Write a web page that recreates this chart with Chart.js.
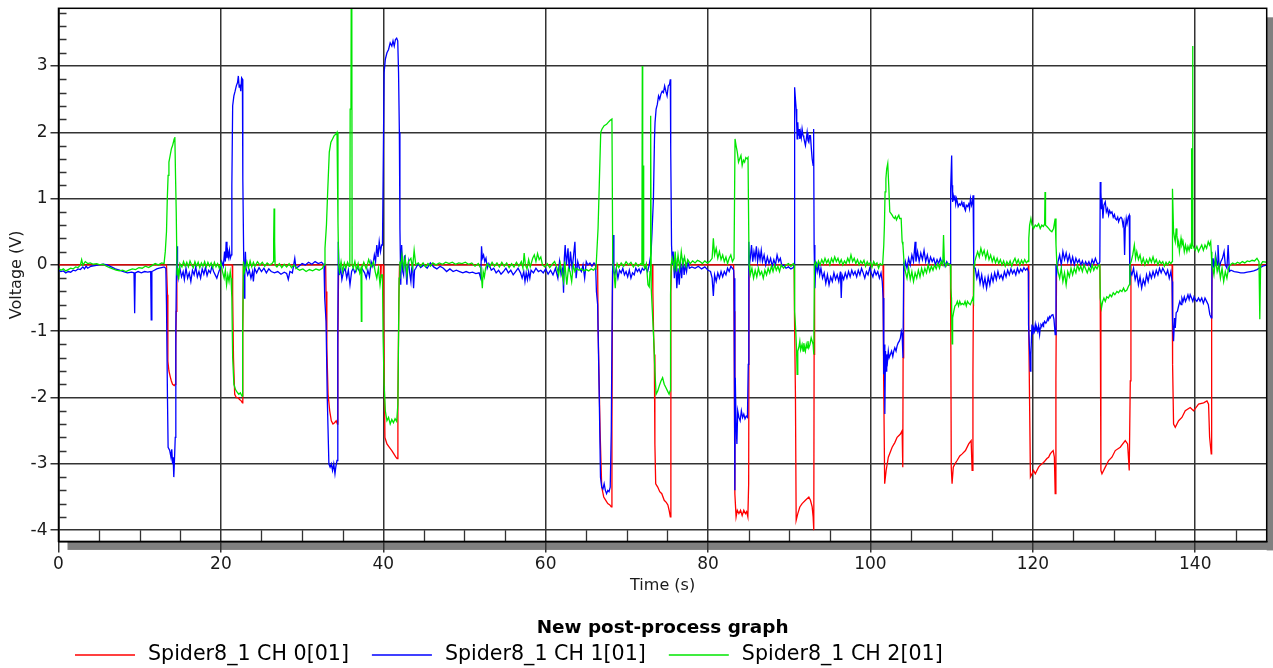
<!DOCTYPE html>
<html>
<head>
<meta charset="utf-8">
<title>New post-process graph</title>
<script src="https://cdn.jsdelivr.net/npm/chart.js@4.4.1/dist/chart.umd.min.js"></script>
<style>
  html, body { margin: 0; padding: 0; background: #fff; }
  canvas { display: block; }
</style>
</head>
<body>
<canvas id="voltChart" width="1273" height="668"></canvas>
<script>
//################### Data ###################
const timeRange = [0, 148.8];
const voltRange = [-4.17, 3.87];
const seriesLabels = ['Spider8_1 CH 0[01]', 'Spider8_1 CH 1[01]', 'Spider8_1 CH 2[01]'];
const seriesColors = ['#ff0000', '#0000ff', '#00e600'];

// [time (s), voltage (V)]
const ch0Points = [
  [0, 0], [13.3, 0], [13.42, -0.45], [13.47, -1.45], [13.6, -1.6], [13.75, -1.68], [13.9, -1.75], [14.05, -1.8], [14.25, -1.82], [14.38, -1.8], [14.44, -1.25], [14.5, -0.7], [14.58, 0],
  [21.4, 0], [21.45, -0.45], [21.55, -1.4], [21.7, -1.95], [21.9, -2.0], [22.1, -2.0], [22.3, -2.03], [22.5, -2.05], [22.65, -2.08], [22.7, -1.0], [22.76, 0],
  [32.9, 0], [32.95, -0.4], [33.05, -1.25], [33.2, -1.95], [33.4, -2.2], [33.6, -2.35], [33.8, -2.4], [34.0, -2.38], [34.2, -2.35], [34.35, -2.4], [34.4, -1.25], [34.5, 0],
  [39.65, 0], [39.7, -0.2], [39.75, 0],
  [40.0, 0], [40.05, -0.8], [40.2, -2.6], [40.45, -2.7], [40.75, -2.75], [41.05, -2.8], [41.3, -2.85], [41.55, -2.9], [41.7, -2.92], [41.8, -2.0], [41.92, -0.5], [42.0, 0],
  [66.4, 0], [66.45, -0.9], [66.7, -2.5], [66.9, -3.35], [67.15, -3.5], [67.4, -3.55], [67.65, -3.6], [67.9, -3.62], [68.08, -3.65], [68.16, -2.5], [68.24, -0.1], [68.3, 0],
  [73.15, 0], [73.2, -0.4], [73.3, -1.1], [73.38, -1.35], [73.45, -2.7], [73.55, -3.3], [73.8, -3.35], [74.05, -3.42], [74.3, -3.45], [74.6, -3.55], [74.85, -3.58], [75.05, -3.62], [75.2, -3.7], [75.35, -3.8], [75.42, -0.4], [75.5, 0],
  [83.15, 0], [83.2, -0.7], [83.3, -3.45], [83.45, -3.8], [83.6, -3.7], [83.8, -3.75], [84.0, -3.7], [84.2, -3.78], [84.4, -3.7], [84.6, -3.75], [84.75, -3.72], [84.9, -3.8], [85.0, -3.3], [85.05, 0],
  [90.6, 0], [90.64, -0.75], [90.76, -1.95], [90.85, -3.85], [91.05, -3.75], [91.3, -3.65], [91.58, -3.6], [91.99, -3.55], [92.41, -3.5], [92.61, -3.55], [92.82, -3.65], [92.94, -3.8], [93.02, -4.0], [93.06, -1.35], [93.12, 0],
  [101.55, 0], [101.62, -1.65], [101.75, -3.3], [101.93, -3.1], [102.2, -2.9], [102.67, -2.75], [103.0, -2.68], [103.28, -2.6], [103.69, -2.55], [103.9, -2.5], [103.98, -3.05], [104.02, -1.4], [104.06, -0.8], [104.12, 0],
  [109.85, 0], [109.9, -1.2], [109.95, -3.05], [110.05, -3.3], [110.2, -3.05], [110.4, -3.0], [110.67, -2.95], [111.0, -2.88], [111.3, -2.85], [111.7, -2.8], [112.1, -2.7], [112.4, -2.65], [112.52, -3.1], [112.62, -1.65], [112.7, 0],
  [119.45, 0], [119.5, -1.0], [119.7, -3.2], [119.9, -3.15], [120.09, -3.1], [120.3, -3.15], [120.5, -3.1], [120.71, -3.05], [120.91, -3.02], [121.12, -3.0], [121.32, -2.98], [121.53, -2.95], [121.73, -2.92], [121.94, -2.9], [122.14, -2.85], [122.34, -2.82], [122.5, -2.8], [122.65, -2.9], [122.75, -3.45], [122.84, -1.75], [122.92, 0],
  [128.25, 0], [128.3, -0.6], [128.38, -3.1], [128.51, -3.15], [128.92, -3.05], [129.33, -2.95], [129.74, -2.9], [130.15, -2.8], [130.76, -2.75], [131.38, -2.65], [131.67, -2.7], [131.87, -3.1], [132.0, -1.75], [132.08, 0],
  [137.15, 0], [137.21, -1.5], [137.33, -2.4], [137.54, -2.45], [137.95, -2.35], [138.36, -2.3], [138.77, -2.2], [139.38, -2.15], [139.79, -2.2], [140.41, -2.1], [141.03, -2.08], [141.44, -2.05], [141.64, -2.1], [141.77, -2.6], [141.97, -2.85], [142.02, -0.8], [142.08, 0],
  [148.8, 0]
];

const ch1Points = [
  [0, -0.08], [0.3, -0.1], [0.6, -0.09], [0.9, -0.12], [1.2, -0.1], [1.5, -0.11], [1.8, -0.08], [2.1, -0.09], [2.4, -0.06], [2.7, -0.07], [3.0, -0.03], [3.2, -0.06], [3.4, -0.02], [3.6, -0.05], [4.0, -0.02], [4.5, -0.01], [5.0, 0.0], [5.5, 0.01], [6.0, 0.0], [6.5, -0.03], [7.0, -0.06], [7.5, -0.08], [8.0, -0.1], [8.5, -0.12], [9.0, -0.11], [9.3, -0.12], [9.38, -0.73], [9.45, -0.12], [9.8, -0.1], [10.2, -0.12], [10.6, -0.1], [11.0, -0.11], [11.35, -0.1], [11.42, -0.83], [11.5, -0.1], [11.8, -0.08], [12.1, -0.06], [12.4, -0.05], [12.7, -0.04], [13.0, -0.03],
  [13.22, -0.05], [13.3, -0.6], [13.42, -2.0], [13.5, -2.75], [13.7, -2.8], [13.85, -2.9], [13.95, -2.78], [14.05, -3.0], [14.12, -2.9], [14.2, -3.2], [14.28, -2.95], [14.38, -2.6], [14.45, -1.0], [14.52, -0.15], [14.6, 0.28], [14.66, -0.1],
  [14.75, -0.2], [14.95, -0.05], [15.15, -0.18], [15.35, -0.1], [15.5, -0.22], [15.7, -0.05], [15.9, -0.2], [16.1, -0.12], [16.3, -0.25], [16.5, -0.08], [16.7, -0.15], [16.9, -0.03], [17.1, -0.18], [17.3, -0.1], [17.5, -0.2], [17.7, -0.06], [17.9, -0.14], [18.1, -0.04], [18.3, -0.16], [18.5, -0.08], [18.7, -0.12], [18.9, -0.02], [19.1, -0.1], [19.3, -0.15], [19.5, -0.2], [19.7, -0.12], [19.9, -0.05], [20.1, 0.05], [20.3, -0.02], [20.45, 0.2], [20.55, 0.05], [20.65, 0.35], [20.75, 0.1], [20.85, 0.2], [20.95, 0.12], [21.05, 0.22], [21.15, 0.1],
  [21.28, 0.15], [21.35, 1.2], [21.45, 2.4], [21.6, 2.55], [21.75, 2.62], [21.9, 2.7], [22.05, 2.75], [22.15, 2.85], [22.25, 2.68], [22.35, 2.72], [22.45, 2.62], [22.55, 2.82], [22.65, 2.8], [22.7, 1.3], [22.8, 0.2], [22.88, -0.5], [22.95, -0.1],
  [23.02, 0.2], [23.1, -0.05], [23.3, -0.15], [23.5, -0.08], [23.7, -0.2], [23.9, -0.1], [24.0, -0.25], [24.15, -0.05], [24.4, -0.12], [24.7, -0.04], [25.0, -0.1], [25.3, -0.05], [25.6, -0.12], [25.9, -0.06], [26.2, -0.1], [26.6, -0.12], [27.0, -0.1], [27.4, -0.14], [27.8, -0.11], [28.1, -0.13], [28.3, -0.22], [28.5, -0.1], [28.8, -0.12], [29.1, 0.1], [29.25, -0.05], [29.6, -0.02], [30.0, 0.02], [30.4, 0.0], [30.8, 0.04], [31.2, 0.01], [31.6, 0.05], [32.0, 0.02], [32.4, 0.04], [32.7, 0.0],
  [32.75, 0.02], [32.82, -0.5], [32.95, -0.85], [33.1, -2.0], [33.3, -3.0], [33.45, -3.05], [33.6, -3.0], [33.75, -3.1], [33.9, -3.0], [34.05, -3.15], [34.15, -3.05], [34.3, -2.95], [34.4, -1.0], [34.46, 0.35], [34.55, -0.1],
  [34.6, -0.15], [34.75, -0.05], [34.9, -0.22], [35.1, -0.1], [35.3, -0.05], [35.5, -0.2], [35.7, -0.08], [35.9, -0.3], [36.1, -0.1], [36.3, -0.05], [36.5, -0.12], [36.8, -0.04], [37.1, -0.1], [37.4, -0.06], [37.7, -0.12], [37.9, -0.2], [38.1, -0.08], [38.3, -0.18], [38.5, 0.05], [38.7, -0.02], [38.9, 0.15], [39.05, 0.05], [39.2, 0.3], [39.35, 0.12], [39.5, 0.35], [39.65, 0.2], [39.8, 0.3],
  [39.9, 0.3], [39.98, 1.3], [40.1, 2.9], [40.25, 3.1], [40.45, 3.2], [40.65, 3.25], [40.85, 3.35], [41.05, 3.3], [41.2, 3.38], [41.35, 3.3], [41.5, 3.4], [41.65, 3.42], [41.78, 3.38], [41.88, 2.9], [41.98, 2.0], [42.05, 0.55], [42.15, -0.3],
  [42.26, 0.3], [42.4, -0.1], [42.5, -0.15], [42.6, 0.12], [42.67, 0.15], [42.8, -0.1], [42.91, -0.3], [43.0, -0.05], [43.12, 0.05], [43.25, -0.12], [43.4, -0.25], [43.5, -0.05], [43.61, 0.0], [43.73, -0.35], [43.85, -0.08], [44.0, -0.05], [44.3, 0.02], [44.6, -0.04], [45.0, 0.0], [45.4, -0.05], [45.8, 0.03], [46.2, -0.03], [46.6, -0.06], [47.0, -0.02], [47.4, -0.05], [47.8, -0.1], [48.2, -0.06], [48.6, -0.1], [49.0, -0.08], [49.4, -0.1], [49.8, -0.12], [50.2, -0.1], [50.6, -0.12], [51.0, -0.11], [51.4, -0.13], [51.8, -0.12], [52.0, -0.2], [52.1, 0.28], [52.2, 0.1], [52.35, 0.15], [52.5, 0.05], [52.65, 0.1], [52.8, -0.05], [53.0, 0.02], [53.3, -0.08], [53.6, -0.05], [53.9, -0.12], [54.2, -0.08], [54.5, -0.14], [54.8, -0.1], [55.1, -0.05], [55.4, -0.12], [55.7, -0.08], [56.0, -0.15], [56.3, -0.1], [56.6, -0.05], [56.9, -0.12], [57.1, -0.2], [57.3, -0.1], [57.45, -0.25], [57.6, -0.12], [57.75, -0.22], [57.9, -0.1], [58.05, -0.2], [58.2, -0.08], [58.5, -0.12], [58.8, -0.05], [59.1, -0.1], [59.4, -0.08],
  [59.7, -0.12], [60.0, -0.06], [60.3, -0.14], [60.6, -0.08], [60.9, -0.15], [61.2, -0.05], [61.5, -0.2], [61.7, 0.05], [61.9, -0.15], [62.1, -0.05], [62.2, -0.42], [62.3, 0.1], [62.4, 0.3], [62.55, 0.0], [62.75, 0.25], [62.9, -0.1], [63.05, 0.2], [63.25, -0.05], [63.4, 0.1], [63.6, 0.35], [63.75, -0.2], [63.95, 0.05], [64.15, -0.05], [64.4, -0.1], [64.6, 0.0], [64.8, -0.2], [65.0, 0.05], [65.2, 0.0], [65.45, 0.03], [65.7, -0.02], [65.95, 0.03], [66.15, 0.0],
  [66.25, -0.4], [66.4, -0.6], [66.6, -2.0], [66.75, -3.2], [66.9, -3.35], [67.05, -3.38], [67.2, -3.3], [67.35, -3.4], [67.5, -3.45], [67.65, -3.4], [67.8, -3.42], [67.95, -3.35], [68.08, -2.5], [68.2, -0.5], [68.3, 0.45], [68.4, -0.1],
  [68.5, -0.15], [68.7, -0.05], [68.9, -0.2], [69.1, -0.08], [69.3, -0.12], [69.5, -0.05], [69.7, -0.15], [69.9, -0.1], [70.1, -0.18], [70.3, -0.08], [70.5, -0.2], [70.7, -0.12], [70.9, -0.15], [71.1, -0.05], [71.3, -0.1], [71.5, -0.06], [71.7, -0.12], [71.9, -0.05], [72.1, -0.08], [72.3, -0.04], [72.55, -0.1], [72.75, 0.0],
  [72.98, 0.18], [73.1, 0.5], [73.27, 1.0], [73.4, 1.9], [73.47, 2.15], [73.6, 2.35], [73.75, 2.42], [73.9, 2.55], [74.05, 2.5], [74.2, 2.58], [74.35, 2.62], [74.5, 2.6], [74.65, 2.7], [74.8, 2.62], [74.95, 2.55], [75.1, 2.7], [75.25, 2.72], [75.35, 2.8], [75.4, 1.75], [75.5, 0.3], [75.6, 0.0],
  [75.7, 0.2], [75.85, -0.2], [76.0, 0.1], [76.15, -0.35], [76.3, -0.05], [76.45, -0.3], [76.6, 0.05], [76.75, -0.2], [76.9, 0.1], [77.05, -0.15], [77.2, 0.0], [77.35, -0.1], [77.5, 0.05], [77.7, -0.05], [78.0, -0.03], [78.4, -0.05], [78.8, -0.02], [79.2, -0.06], [79.6, -0.03], [80.0, -0.08], [80.3, -0.1], [80.5, -0.2], [80.65, -0.47], [80.8, -0.15], [81.0, -0.25], [81.2, -0.12], [81.4, -0.2], [81.6, -0.1], [81.8, -0.18], [82.0, -0.1], [82.2, -0.15], [82.4, -0.05], [82.6, -0.1], [82.8, -0.02], [83.0, -0.05], [83.15, -0.08],
  [83.2, -0.2], [83.3, -3.4], [83.35, -1.7], [83.45, -2.4], [83.55, -2.7], [83.65, -2.2], [83.8, -2.3], [83.95, -2.35], [84.1, -2.2], [84.25, -2.3], [84.4, -2.25], [84.55, -2.32], [84.7, -2.28], [84.85, -2.3], [84.95, -1.5], [85.02, 0.35], [85.1, 0.0],
  [85.2, 0.1], [85.35, 0.3], [85.5, 0.05], [85.65, 0.2], [85.8, 0.1], [85.95, 0.28], [86.1, 0.05], [86.25, 0.2], [86.4, 0.08], [86.55, 0.22], [86.7, 0.05], [86.9, 0.15], [87.1, 0.0], [87.3, 0.12], [87.5, 0.02], [87.7, 0.1], [87.9, -0.02], [88.1, 0.08], [88.3, 0.0], [88.5, 0.15], [88.7, 0.05], [88.9, 0.1], [89.1, -0.02], [89.3, 0.0], [89.6, -0.05], [89.9, -0.03], [90.2, -0.06], [90.5, -0.04], [90.62, 0.0],
  [90.64, 0.1], [90.68, 2.68], [90.76, 2.5], [90.85, 2.35], [90.92, 2.1], [90.97, 1.9], [91.05, 2.15], [91.12, 1.95], [91.2, 2.05], [91.3, 1.9], [91.38, 2.0], [91.48, 1.92], [91.58, 2.05], [91.7, 1.95], [91.79, 1.92], [91.9, 1.85], [91.99, 1.8], [92.1, 1.9], [92.2, 2.0], [92.3, 1.88], [92.41, 1.85], [92.5, 1.95], [92.61, 1.95], [92.72, 1.75], [92.82, 1.6], [92.94, 1.5], [93.0, 2.05], [93.06, 0.3], [93.15, -0.35], [93.25, -0.05],
  [93.3, 0.05], [93.45, -0.1], [93.6, 0.0], [93.75, -0.15], [93.9, -0.05], [94.1, -0.2], [94.3, -0.12], [94.5, -0.28], [94.7, -0.15], [94.9, -0.3], [95.1, -0.18], [95.3, -0.25], [95.5, -0.12], [95.7, -0.22], [95.9, -0.15], [96.1, -0.25], [96.3, -0.1], [96.4, -0.5], [96.5, -0.15], [96.7, -0.22], [96.9, -0.12], [97.1, -0.2], [97.3, -0.1], [97.5, -0.18], [97.7, -0.08], [97.9, -0.15], [98.1, -0.1], [98.3, -0.18], [98.5, -0.08], [98.7, -0.15], [98.9, -0.05], [99.1, -0.12], [99.3, -0.2], [99.5, -0.1], [99.7, -0.15], [99.9, -0.05], [100.1, -0.12], [100.3, -0.18], [100.5, -0.08], [100.7, -0.15], [100.9, -0.1], [101.1, -0.2], [101.3, -0.12], [101.45, -0.25],
  [101.56, -0.5], [101.64, -1.65], [101.72, -1.2], [101.77, -2.25], [101.85, -1.3], [101.93, -1.6], [102.0, -1.35], [102.1, -1.45], [102.2, -1.3], [102.3, -1.4], [102.45, -1.35], [102.6, -1.3], [102.75, -1.38], [102.87, -1.3], [103.0, -1.25], [103.15, -1.3], [103.28, -1.22], [103.4, -1.18], [103.55, -1.15], [103.69, -1.1], [103.8, -1.0], [103.9, -1.05], [104.0, -1.4], [104.1, 0.0], [104.2, -0.05],
  [104.3, 0.05], [104.5, -0.05], [104.7, 0.1], [104.9, 0.0], [105.1, 0.15], [105.3, 0.05], [105.5, 0.35], [105.6, 0.05], [105.8, 0.2], [106.0, 0.05], [106.2, 0.18], [106.4, 0.08], [106.6, 0.22], [106.8, 0.05], [107.0, 0.15], [107.2, 0.02], [107.4, 0.12], [107.6, 0.05], [107.8, 0.1], [108.0, 0.0], [108.2, 0.08], [108.4, 0.02], [108.6, 0.1], [108.8, 0.03], [109.0, 0.07], [109.2, -0.02], [109.4, 0.05], [109.6, 0.0], [109.8, 0.02],
  [109.85, 0.05], [109.9, 1.15], [110.0, 1.65], [110.05, 1.2], [110.12, 0.95], [110.2, 1.05], [110.3, 0.98], [110.4, 1.05], [110.5, 0.92], [110.6, 1.0], [110.7, 0.95], [110.8, 0.88], [110.95, 0.92], [111.1, 0.9], [111.25, 0.95], [111.4, 0.88], [111.5, 0.95], [111.6, 0.85], [111.7, 0.82], [111.8, 0.9], [111.95, 0.88], [112.1, 0.92], [112.2, 0.85], [112.32, 1.0], [112.45, 0.9], [112.55, 0.95], [112.64, 1.05], [112.72, 0.0], [112.8, -0.05],
  [112.9, -0.05], [113.1, -0.2], [113.3, -0.1], [113.5, -0.28], [113.7, -0.15], [113.9, -0.32], [114.1, -0.2], [114.3, -0.35], [114.5, -0.18], [114.7, -0.3], [114.9, -0.15], [115.1, -0.25], [115.3, -0.12], [115.5, -0.22], [115.7, -0.1], [115.9, -0.2], [116.1, -0.15], [116.3, -0.22], [116.5, -0.1], [116.7, -0.18], [116.9, -0.08], [117.1, -0.15], [117.3, -0.06], [117.5, -0.13], [117.7, -0.08], [117.9, -0.15], [118.1, -0.05], [118.3, -0.12], [118.5, -0.06], [118.7, -0.1], [118.9, -0.04], [119.1, -0.08], [119.3, -0.05], [119.45, -0.1],
  [119.47, -0.9], [119.6, -1.3], [119.68, -1.6], [119.76, -1.35], [119.89, -0.9], [120.0, -1.05], [120.09, -0.95], [120.2, -1.0], [120.3, -0.9], [120.4, -0.98], [120.5, -0.95], [120.6, -1.0], [120.71, -0.92], [120.83, -1.05], [120.91, -0.95], [121.0, -0.9], [121.12, -0.92], [121.25, -0.88], [121.32, -0.9], [121.45, -0.85], [121.6, -0.88], [121.73, -0.85], [121.85, -0.8], [121.94, -0.83], [122.05, -0.78], [122.14, -0.8], [122.3, -0.76], [122.47, -0.75], [122.6, -0.82], [122.75, -1.05], [122.85, 0.0], [122.95, -0.1],
  [123.1, 0.05], [123.3, 0.15], [123.5, 0.0], [123.7, 0.2], [123.9, 0.08], [124.1, 0.18], [124.3, 0.05], [124.5, 0.15], [124.7, 0.02], [124.9, 0.12], [125.1, 0.0], [125.3, 0.1], [125.5, 0.03], [125.7, 0.08], [125.9, 0.0], [126.1, 0.06], [126.3, -0.02], [126.5, 0.05], [126.7, 0.0], [126.9, 0.05], [127.1, -0.02], [127.3, 0.08], [127.5, 0.02], [127.7, 0.1], [127.9, 0.03], [128.1, 0.0],
  [128.25, 0.05], [128.3, 1.25], [128.38, 1.1], [128.45, 0.85], [128.51, 1.0], [128.63, 0.7], [128.75, 0.9], [128.92, 0.95], [129.05, 0.8], [129.2, 0.85], [129.33, 0.75], [129.45, 0.82], [129.6, 0.78], [129.74, 0.8], [129.9, 0.72], [130.05, 0.76], [130.15, 0.7], [130.3, 0.68], [130.45, 0.72], [130.56, 0.65], [130.7, 0.7], [130.85, 0.72], [130.97, 0.7], [131.1, 0.6], [131.2, 0.65], [131.3, 0.15], [131.38, 0.55], [131.5, 0.7], [131.6, 0.62], [131.75, 0.72], [131.87, 0.75], [131.95, -0.3], [132.05, -0.1],
  [132.2, -0.15], [132.4, -0.05], [132.6, -0.22], [132.8, -0.12], [133.0, -0.3], [133.2, -0.18], [133.4, -0.35], [133.6, -0.22], [133.8, -0.3], [134.0, -0.15], [134.2, -0.25], [134.4, -0.12], [134.6, -0.2], [134.8, -0.1], [135.0, -0.18], [135.2, -0.08], [135.4, -0.15], [135.6, -0.05], [135.8, -0.12], [136.0, -0.05], [136.2, -0.1], [136.4, -0.15], [136.6, -0.08], [136.8, -0.2], [137.0, -0.1], [137.15, -0.25],
  [137.18, -0.3], [137.25, -0.85], [137.33, -1.15], [137.45, -0.8], [137.54, -0.95], [137.65, -0.72], [137.8, -0.7], [137.95, -0.62], [138.1, -0.55], [138.25, -0.6], [138.36, -0.5], [138.5, -0.55], [138.65, -0.48], [138.8, -0.55], [138.97, -0.5], [139.1, -0.45], [139.25, -0.52], [139.38, -0.45], [139.55, -0.5], [139.7, -0.55], [139.85, -0.48], [140.0, -0.52], [140.2, -0.55], [140.4, -0.5], [140.6, -0.55], [140.8, -0.5], [141.0, -0.58], [141.2, -0.5], [141.4, -0.55], [141.6, -0.6], [141.8, -0.75], [141.97, -0.8], [142.05, 0.1], [142.15, -0.05],
  [142.2, 0.1], [142.35, -0.05], [142.5, 0.15], [142.7, 0.0], [142.8, 0.3], [142.95, -0.05], [143.15, 0.05], [143.35, 0.1], [143.55, 0.2], [143.7, 0.0], [143.9, -0.05], [144.05, 0.3], [144.2, -0.1], [144.4, -0.08], [144.8, -0.1], [145.2, -0.11], [145.6, -0.12], [146.0, -0.12], [146.4, -0.11], [146.8, -0.1], [147.2, -0.09], [147.6, -0.07], [148.0, -0.04], [148.3, -0.02], [148.8, 0.0]
];

const ch2Points = [
  [0, -0.05], [0.3, -0.08], [0.6, -0.06], [0.9, -0.09], [1.2, -0.07], [1.5, -0.05], [1.8, -0.06], [2.1, -0.03], [2.4, -0.04], [2.7, 0.0], [2.85, 0.08], [3.0, 0.0], [3.3, 0.05], [3.6, 0.02], [3.9, 0.03], [4.3, 0.01], [4.7, 0.02], [5.1, 0.0], [5.5, 0.01], [5.9, -0.02], [6.3, -0.04], [6.7, -0.06], [7.1, -0.08], [7.5, -0.09], [7.9, -0.08], [8.3, -0.1], [8.7, -0.08], [9.1, -0.06], [9.5, -0.07], [9.9, -0.04], [10.3, -0.05], [10.7, -0.02], [11.1, -0.04], [11.5, -0.01], [11.9, 0.02], [12.3, 0.0], [12.7, 0.03], [13.0, 0.02],
  [13.05, 0.02], [13.15, 0.2], [13.3, 0.5], [13.4, 1.0], [13.5, 1.35], [13.6, 1.55], [13.75, 1.65], [13.9, 1.75], [14.05, 1.8], [14.15, 1.85], [14.25, 1.9], [14.33, 1.93], [14.42, 1.3], [14.5, 0.8], [14.6, -0.15],
  [14.7, -0.05], [14.8, -0.22], [14.95, 0.02], [15.2, -0.03], [15.4, 0.05], [15.6, -0.02], [15.8, 0.04], [16.0, -0.03], [16.2, 0.06], [16.4, 0.0], [16.6, -0.04], [16.8, 0.05], [17.0, -0.02], [17.2, 0.04], [17.4, -0.04], [17.6, 0.03], [17.8, -0.02], [18.0, 0.05], [18.2, -0.03], [18.4, 0.04], [18.6, -0.02], [18.8, 0.03], [19.0, -0.04], [19.2, 0.04], [19.4, -0.03], [19.6, 0.02], [19.8, -0.05], [20.0, 0.03], [20.2, -0.1], [20.4, -0.2], [20.55, -0.08], [20.7, -0.3], [20.85, -0.15], [21.0, -0.25], [21.15, -0.1], [21.25, -0.2],
  [21.35, -0.5], [21.45, -1.4], [21.6, -1.8], [21.8, -1.88], [22.0, -1.92], [22.2, -1.95], [22.4, -1.93], [22.6, -1.98], [22.68, -1.0], [22.78, 0.05], [22.9, -0.1],
  [23.2, 0.05], [23.4, -0.05], [23.6, 0.06], [23.8, -0.03], [24.0, 0.04], [24.2, -0.02], [24.5, 0.05], [24.8, 0.0], [25.1, 0.04], [25.4, -0.02], [25.7, 0.03], [26.0, 0.0], [26.3, 0.02], [26.45, 0.05], [26.5, 0.4], [26.55, 0.85], [26.62, 0.35], [26.68, 0.0], [26.9, -0.03], [27.2, 0.02], [27.5, -0.04], [27.8, 0.01], [28.1, -0.03], [28.4, 0.02], [28.7, -0.04], [29.0, 0.0], [29.3, -0.05], [29.7, -0.08], [30.1, -0.06], [30.5, -0.1], [30.9, -0.07], [31.3, -0.09], [31.7, -0.06], [32.1, -0.08], [32.5, -0.05], [32.7, 0.0],
  [32.82, 0.25], [33.0, 0.6], [33.15, 1.1], [33.35, 1.7], [33.55, 1.85], [33.75, 1.9], [33.95, 1.95], [34.15, 1.97], [34.3, 2.0], [34.42, 0.65], [34.5, 0.0],
  [34.6, -0.1], [34.8, 0.05], [35.0, -0.1], [35.2, 0.03], [35.4, -0.05], [35.6, 0.04], [35.8, -0.02], [35.88, 0.02], [35.92, 2.35], [36.02, 2.4], [36.06, 4.5], [36.12, 4.4], [36.16, 0.0],
  [36.3, -0.05], [36.5, 0.05], [36.7, -0.08], [36.9, 0.02], [37.1, -0.12], [37.25, -0.05], [37.3, -0.85], [37.36, -0.05], [37.6, 0.04], [37.9, -0.06], [38.2, 0.08], [38.5, -0.03], [38.8, 0.05], [39.0, -0.1], [39.2, -0.2], [39.4, -0.05], [39.6, -0.3], [39.75, -0.15],
  [39.9, -0.15], [39.98, -1.1], [40.1, -1.8], [40.25, -2.2], [40.45, -2.35], [40.65, -2.3], [40.85, -2.4], [41.05, -2.33], [41.25, -2.38], [41.45, -2.32], [41.65, -2.36], [41.8, -2.1], [41.95, -0.2], [42.05, 0.05],
  [42.1, -0.1], [42.3, 0.15], [42.5, -0.05], [42.7, 0.1], [42.9, -0.15], [43.1, 0.05], [43.4, 0.1], [43.6, -0.05], [43.8, 0.22], [44.0, 0.0], [44.3, 0.03], [44.6, -0.02], [44.9, 0.03], [45.2, -0.03], [45.5, 0.02], [45.8, -0.02], [46.1, 0.03], [46.5, 0.0], [46.9, 0.03], [47.3, 0.01], [47.7, 0.04], [48.1, 0.02], [48.5, 0.04], [48.9, 0.01], [49.3, 0.03], [49.7, 0.02], [50.1, 0.04], [50.5, 0.01], [50.9, 0.03], [51.3, -0.02], [51.7, 0.02], [52.0, -0.05], [52.2, -0.35], [52.3, -0.1], [52.45, -0.18], [52.6, -0.05], [52.8, 0.02], [53.1, -0.03], [53.4, 0.04], [53.7, -0.02], [54.0, 0.03], [54.3, -0.03], [54.6, 0.04], [54.9, -0.02], [55.2, 0.03], [55.5, -0.04], [55.8, 0.02], [56.1, -0.03], [56.4, 0.04], [56.7, -0.02], [57.0, 0.05], [57.2, -0.05], [57.35, 0.18], [57.5, 0.0], [57.7, -0.06], [57.9, 0.08], [58.1, -0.03], [58.4, 0.1], [58.6, 0.15], [58.8, 0.05], [59.0, 0.17], [59.2, 0.08], [59.4, 0.12], [59.6, 0.0], [59.9, -0.03], [60.2, 0.02], [60.5, -0.04], [60.8, 0.01], [61.1, 0.05], [61.4, -0.05], [61.6, -0.15], [61.8, 0.02], [62.0, -0.12], [62.2, -0.25], [62.35, 0.05], [62.6, -0.3], [62.8, -0.05], [63.0, -0.1], [63.2, -0.25], [63.4, 0.0], [63.6, -0.1], [63.8, -0.05], [64.1, -0.08], [64.4, -0.06], [64.7, -0.09], [65.0, -0.07], [65.3, -0.09], [65.6, -0.06], [65.9, -0.08], [66.15, -0.04],
  [66.2, -0.05], [66.45, 0.55], [66.6, 1.2], [66.78, 2.0], [66.94, 2.05], [67.2, 2.1], [67.5, 2.12], [67.7, 2.15], [67.95, 2.18], [68.16, 2.2], [68.26, 0.05], [68.4, -0.1], [68.57, -0.35], [68.7, -0.05],
  [68.8, 0.02], [69.0, -0.04], [69.3, 0.03], [69.6, -0.02], [69.9, 0.05], [70.2, 0.0], [70.5, 0.04], [70.8, -0.03], [71.1, 0.03], [71.4, -0.02], [71.7, 0.02], [71.85, 0.0], [71.9, 3.0], [71.95, 0.0], [72.02, 1.5], [72.07, 0.0], [72.2, -0.05], [72.4, 0.02], [72.6, -0.3], [72.75, -0.33], [72.85, -0.1], [72.9, 2.25], [72.96, 2.2], [73.0, -0.35],
  [73.3, -1.1], [73.45, -1.6], [73.6, -1.95], [73.8, -1.9], [74.0, -1.82], [74.2, -1.75], [74.4, -1.7], [74.6, -1.8], [74.8, -1.85], [75.0, -1.9], [75.2, -1.95], [75.32, -1.9], [75.38, -0.45], [75.45, 0.0],
  [75.6, 0.1], [75.8, -0.05], [75.95, 0.2], [76.1, -0.1], [76.3, 0.15], [76.5, -0.05], [76.7, 0.2], [76.9, 0.0], [77.1, 0.12], [77.3, -0.02], [77.5, 0.08], [77.8, 0.02], [78.1, 0.06], [78.4, 0.03], [78.7, 0.07], [79.0, 0.05], [79.3, 0.02], [79.6, 0.06], [79.9, 0.03], [80.2, 0.05], [80.5, 0.1], [80.65, 0.4], [80.8, 0.15], [81.0, 0.25], [81.2, 0.1], [81.4, 0.2], [81.6, 0.08], [81.8, 0.15], [82.0, 0.05], [82.2, 0.12], [82.4, 0.02], [82.6, 0.1], [82.8, 0.15], [83.0, 0.05], [83.2, 0.1],
  [83.25, 0.1], [83.32, 1.9], [83.45, 1.8], [83.6, 1.7], [83.75, 1.55], [83.9, 1.6], [84.05, 1.65], [84.2, 1.5], [84.35, 1.58], [84.5, 1.55], [84.65, 1.62], [84.8, 1.6], [84.92, 1.62], [85.05, 0.0], [85.15, -0.1],
  [85.2, -0.15], [85.4, -0.05], [85.6, -0.2], [85.8, -0.08], [86.0, -0.18], [86.2, -0.05], [86.4, -0.15], [86.6, -0.1], [86.8, -0.2], [87.0, -0.08], [87.2, -0.15], [87.4, -0.05], [87.6, -0.12], [87.8, -0.02], [88.0, -0.1], [88.2, 0.0], [88.4, -0.08], [88.6, -0.02], [88.8, -0.1], [89.0, 0.0], [89.3, -0.05], [89.6, 0.0], [89.9, 0.02], [90.2, -0.02], [90.5, 0.02],
  [90.62, 0.0], [90.66, -0.7], [90.8, -1.0], [90.89, -1.25], [90.97, -1.65], [91.05, -1.3], [91.17, -1.25], [91.3, -1.15], [91.4, -1.28], [91.58, -1.2], [91.7, -1.3], [91.79, -1.18], [91.9, -1.25], [91.99, -1.3], [92.1, -1.2], [92.2, -1.25], [92.3, -1.15], [92.41, -1.25], [92.55, -1.2], [92.7, -1.1], [92.82, -1.15], [92.94, -1.2], [93.02, -1.35], [93.1, 0.0],
  [93.2, 0.05], [93.4, -0.03], [93.6, 0.06], [93.8, 0.0], [94.0, 0.08], [94.2, 0.02], [94.4, 0.1], [94.6, 0.03], [94.8, 0.08], [95.0, 0.0], [95.2, 0.1], [95.4, 0.04], [95.6, 0.12], [95.8, 0.05], [96.0, 0.1], [96.2, 0.02], [96.4, 0.08], [96.6, 0.0], [96.8, 0.06], [97.0, 0.02], [97.2, 0.1], [97.4, 0.04], [97.6, 0.15], [97.8, 0.05], [98.0, 0.1], [98.2, 0.02], [98.4, 0.08], [98.6, 0.0], [98.8, 0.06], [99.0, 0.02], [99.2, 0.07], [99.4, -0.02], [99.6, 0.05], [99.8, 0.0], [100.0, 0.04], [100.2, -0.03], [100.4, 0.05], [100.6, 0.0], [100.8, 0.03], [101.0, -0.05], [101.2, 0.02], [101.4, 0.0],
  [101.5, 0.0], [101.64, 0.3], [101.72, 0.6], [101.8, 1.1], [101.9, 1.3], [102.0, 1.45], [102.13, 1.53], [102.25, 1.2], [102.38, 0.8], [102.5, 0.78], [102.67, 0.75], [102.8, 0.72], [102.95, 0.7], [103.08, 0.73], [103.2, 0.68], [103.35, 0.72], [103.49, 0.75], [103.6, 0.7], [103.78, 0.7], [103.9, 0.35], [104.0, 0.3], [104.15, 0.0],
  [104.3, -0.1], [104.5, -0.2], [104.7, -0.05], [104.9, -0.22], [105.1, -0.1], [105.3, -0.25], [105.5, -0.12], [105.7, -0.2], [105.9, -0.08], [106.1, -0.18], [106.3, -0.05], [106.5, -0.15], [106.7, -0.05], [106.9, -0.12], [107.1, 0.0], [107.3, -0.1], [107.5, -0.02], [107.7, -0.08], [107.9, 0.0], [108.1, -0.06], [108.3, 0.02], [108.5, -0.05], [108.7, 0.05], [108.9, 0.0], [109.0, 0.45], [109.1, 0.05], [109.3, -0.02], [109.5, 0.03], [109.7, 0.0],
  [109.85, 0.0], [109.9, -0.35], [109.98, -0.5], [110.06, -1.19], [110.12, -0.8], [110.26, -0.7], [110.4, -0.62], [110.55, -0.6], [110.7, -0.55], [110.85, -0.62], [111.0, -0.55], [111.15, -0.6], [111.3, -0.58], [111.5, -0.6], [111.65, -0.55], [111.8, -0.62], [111.95, -0.55], [112.1, -0.58], [112.3, -0.6], [112.45, -0.55], [112.6, -0.5], [112.7, -0.55], [112.76, 0.0],
  [112.85, 0.05], [113.0, 0.12], [113.2, 0.2], [113.4, 0.12], [113.6, 0.25], [113.8, 0.15], [114.0, 0.22], [114.2, 0.1], [114.4, 0.2], [114.6, 0.08], [114.8, 0.15], [115.0, 0.05], [115.2, 0.12], [115.4, 0.03], [115.6, 0.1], [115.8, 0.02], [116.0, 0.08], [116.2, 0.0], [116.4, 0.06], [116.6, -0.02], [116.8, 0.05], [117.0, 0.0], [117.2, 0.06], [117.4, -0.02], [117.6, 0.05], [117.8, 0.1], [118.0, 0.02], [118.2, 0.08], [118.4, 0.0], [118.6, 0.07], [118.8, 0.02], [119.0, 0.08], [119.2, 0.03], [119.4, 0.06],
  [119.45, 0.05], [119.5, 0.4], [119.6, 0.6], [119.76, 0.7], [119.9, 0.6], [120.09, 0.55], [120.3, 0.6], [120.5, 0.58], [120.71, 0.62], [120.91, 0.55], [121.1, 0.6], [121.3, 0.58], [121.45, 0.62], [121.5, 1.1], [121.56, 0.6], [121.73, 0.58], [121.94, 0.55], [122.14, 0.52], [122.34, 0.5], [122.55, 0.55], [122.75, 0.7], [122.85, 0.3], [122.96, 0.0],
  [123.1, -0.1], [123.3, -0.2], [123.5, -0.05], [123.7, -0.25], [123.9, -0.12], [124.1, -0.3], [124.3, -0.1], [124.5, -0.18], [124.7, -0.05], [124.9, -0.15], [125.1, -0.05], [125.3, -0.12], [125.5, 0.0], [125.7, -0.08], [125.9, -0.02], [126.1, -0.1], [126.3, 0.0], [126.5, -0.06], [126.7, -0.12], [126.9, -0.04], [127.1, -0.1], [127.3, 0.0], [127.5, -0.08], [127.7, -0.02], [127.9, -0.06], [128.1, 0.0],
  [128.25, 0.0], [128.3, -0.5], [128.45, -0.65], [128.6, -0.55], [128.75, -0.5], [128.92, -0.55], [129.1, -0.48], [129.3, -0.5], [129.5, -0.45], [129.7, -0.48], [129.9, -0.42], [130.1, -0.45], [130.35, -0.4], [130.55, -0.42], [130.75, -0.38], [130.97, -0.4], [131.17, -0.35], [131.35, -0.4], [131.58, -0.38], [131.75, -0.33], [131.87, -0.3], [131.95, 0.0],
  [132.1, 0.05], [132.3, 0.15], [132.5, 0.3], [132.65, 0.1], [132.8, 0.2], [133.0, 0.08], [133.2, 0.15], [133.4, 0.02], [133.6, 0.1], [133.8, 0.0], [134.0, 0.08], [134.2, 0.02], [134.4, 0.1], [134.6, 0.04], [134.8, 0.12], [135.0, 0.03], [135.2, 0.08], [135.4, 0.0], [135.6, 0.06], [135.8, 0.02], [136.0, 0.05], [136.2, -0.02], [136.4, 0.04], [136.6, 0.0], [136.8, 0.05], [137.0, 0.02], [137.15, 0.05],
  [137.18, 0.05], [137.21, 1.15], [137.33, 0.5], [137.45, 0.4], [137.54, 0.35], [137.65, 0.55], [137.74, 0.45], [137.85, 0.3], [137.95, 0.35], [138.05, 0.2], [138.15, 0.3], [138.25, 0.4], [138.36, 0.3], [138.5, 0.35], [138.65, 0.2], [138.8, 0.3], [138.97, 0.2], [139.1, 0.28], [139.25, 0.22], [139.38, 0.3], [139.5, 0.25], [139.55, 1.75], [139.62, 1.75], [139.67, 3.3], [139.72, 0.3], [139.85, 0.25], [140.0, 0.22], [140.2, 0.28], [140.4, 0.2], [140.6, 0.25], [140.8, 0.3], [141.0, 0.22], [141.2, 0.3], [141.4, 0.25], [141.6, 0.35], [141.75, 0.3], [141.9, 0.35], [141.97, 0.2], [142.05, 0.0],
  [142.15, -0.05], [142.3, -0.15], [142.5, 0.1], [142.7, -0.1], [142.9, 0.0], [143.1, -0.2], [143.3, -0.05], [143.5, -0.25], [143.7, -0.1], [143.9, -0.2], [144.1, -0.05], [144.3, 0.0], [144.6, 0.03], [144.9, 0.01], [145.2, 0.04], [145.5, 0.02], [145.8, 0.05], [146.1, 0.03], [146.4, 0.06], [146.7, 0.05], [147.0, 0.07], [147.3, 0.06], [147.6, 0.1], [147.85, 0.05], [147.95, -0.82], [148.05, 0.0], [148.3, 0.05], [148.8, 0.04]
];

const FONT = "'DejaVu Sans', sans-serif";
const GRID = '#333333';
const TEXT = '#1a1a1a';

function toXY(points) {
    return points.map(p => ({ x: p[0], y: p[1] }));
}

//################### Frame, shadow and minor ticks ###################
const plotFrame = {
    id: 'plotFrame',
    beforeDraw(chart) {
        const { ctx, chartArea: a } = chart;
        ctx.save();
        ctx.fillStyle = '#808080';
        ctx.fillRect(a.left + 9, a.bottom, a.right - a.left + 9, 8.5);
        ctx.fillRect(a.right, a.top + 9, 9, a.bottom - a.top);
        ctx.restore();
    },
    beforeDatasetsDraw(chart) {
        const { ctx, chartArea: a, scales: { x, y } } = chart;
        ctx.save();
        ctx.strokeStyle = GRID;
        ctx.lineWidth = 1.3;
        ctx.beginPath();
        // 0.2 V minor ticks on the inside of the left edge
        for (let i = -20; i < 20; i++) {
            if (i % 5 === 0) continue;
            const py = Math.round(y.getPixelForValue(i / 5)) + 0.5;
            ctx.moveTo(a.left, py);
            ctx.lineTo(a.left + 8, py);
        }
        // 5 s ticks in the strip below -4 V
        const yBand = y.getPixelForValue(-4);
        for (let t = 5; t < x.max; t += 5) {
            if (t % 20 === 0) continue;
            const px = Math.round(x.getPixelForValue(t)) + 0.5;
            ctx.moveTo(px, yBand);
            ctx.lineTo(px, a.bottom);
        }
        ctx.stroke();
        ctx.restore();
    },
    afterDraw(chart) {
        const { ctx, chartArea: a } = chart;
        ctx.save();
        ctx.strokeStyle = '#000';
        ctx.lineWidth = 1.5;
        ctx.strokeRect(a.left, a.top, a.right - a.left, a.bottom - a.top);
        ctx.restore();
    }
};

//################### Legend row under the title ###################
const bottomLegend = {
    id: 'bottomLegend',
    afterDraw(chart) {
        const { ctx } = chart;
        const yMid = 655;
        let x = 75;
        ctx.save();
        ctx.font = '20.6px ' + FONT;
        ctx.textBaseline = 'middle';
        chart.data.datasets.forEach(ds => {
            ctx.strokeStyle = ds.borderColor;
            ctx.lineWidth = 1.5;
            ctx.beginPath();
            ctx.moveTo(x, yMid);
            ctx.lineTo(x + 60, yMid);
            ctx.stroke();
            ctx.fillStyle = '#000';
            ctx.fillText(ds.label, x + 73, yMid);
            x += 73 + ctx.measureText(ds.label).width + 23;
        });
        ctx.restore();
    }
};

//################### Plot the voltage chart ###################
const voltCtx = document.getElementById('voltChart').getContext('2d');
new Chart(voltCtx, {
    type: 'line',
    data: {
        datasets: [
            { label: seriesLabels[0], data: toXY(ch0Points), borderColor: seriesColors[0], order: 2 },
            { label: seriesLabels[1], data: toXY(ch1Points), borderColor: seriesColors[1], order: 1 },
            { label: seriesLabels[2], data: toXY(ch2Points), borderColor: seriesColors[2], order: 0 },
        ]
    },
    options: {
        responsive: false,
        animation: false,
        events: [],
        elements: {
            line: { borderWidth: 1.3, tension: 0 },
            point: { radius: 0 }
        },
        layout: {
            padding: { top: 8.3, right: 6.3, bottom: 25.2, left: 0 }
        },
        plugins: {
            legend: { display: false },
            tooltip: { enabled: false },
            title: {
                display: true,
                text: 'New post-process graph',
                position: 'bottom',
                fullSize: false,
                color: '#000',
                font: { family: FONT, size: 18.4, weight: 'bold' },
                padding: { top: 17.3, bottom: 4 }
            }
        },
        scales: {
            x: {
                type: 'linear',
                min: timeRange[0],
                max: timeRange[1],
                border: { color: '#000', width: 1.5 },
                grid: { color: GRID, lineWidth: 1.5, tickLength: 11 },
                ticks: {
                    stepSize: 20,
                    includeBounds: false,
                    maxRotation: 0,
                    padding: 2,
                    color: TEXT,
                    font: { family: FONT, size: 17 }
                },
                title: {
                    display: true,
                    text: 'Time (s)',
                    color: TEXT,
                    font: { family: FONT, size: 16 },
                    padding: { top: 0, bottom: 4 }
                },
                afterFit(scale) {
                    scale.height = 58;
                    scale.paddingLeft = 0;
                    scale.paddingRight = 0;
                    scale.paddingTop = 0;
                    scale.paddingBottom = 0;
                }
            },
            y: {
                type: 'linear',
                min: voltRange[0],
                max: voltRange[1],
                border: { color: '#000', width: 1.5 },
                grid: { color: GRID, lineWidth: 1.5, tickLength: 8 },
                ticks: {
                    stepSize: 1,
                    includeBounds: false,
                    padding: 3,
                    color: TEXT,
                    font: { family: FONT, size: 17 }
                },
                title: {
                    display: true,
                    text: 'Voltage (V)',
                    color: TEXT,
                    font: { family: FONT, size: 16 },
                    padding: { top: 7.4, bottom: 0 }
                },
                afterFit(scale) {
                    scale.width = 58.5;
                    scale.paddingLeft = 0;
                    scale.paddingRight = 0;
                    scale.paddingTop = 0;
                    scale.paddingBottom = 0;
                }
            }
        }
    },
    plugins: [plotFrame, bottomLegend]
});
</script>
</body>
</html>
